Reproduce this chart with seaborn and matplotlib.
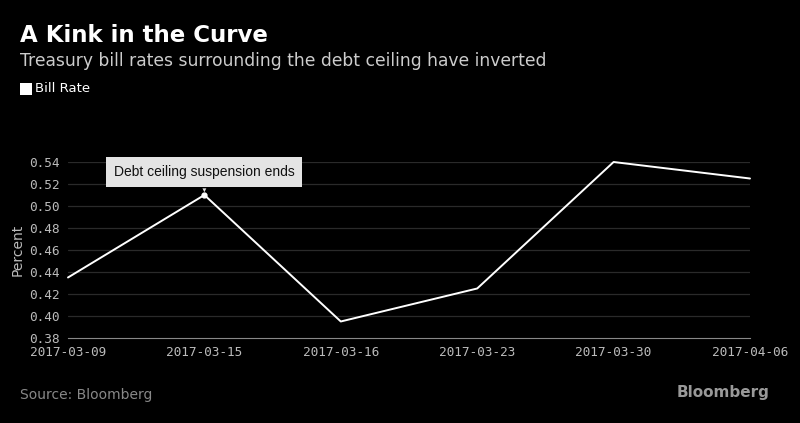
"""Bloomberg-style chart: Treasury bill rates around the debt ceiling."""

import matplotlib
matplotlib.use("Agg")
import matplotlib.pyplot as plt
import pandas as pd
import seaborn as sns

dates = ["2017-03-09", "2017-03-15", "2017-03-16", "2017-03-23", "2017-03-30", "2017-04-06"]
bill_rate = [0.435, 0.51, 0.395, 0.425, 0.54, 0.525]
y_ticks = [0.38, 0.40, 0.42, 0.44, 0.46, 0.48, 0.50, 0.52, 0.54]

sns.set_theme(style="dark")
plt.rcParams["font.family"] = ["DejaVu Sans"]

df = pd.DataFrame({"date": dates, "rate": bill_rate})
df["pos"] = range(len(df))

fig = plt.figure(figsize=(8, 4.23), dpi=100, facecolor="black")
ax = fig.add_axes([0.085, 0.201, 0.8525, 0.416])
ax.set_facecolor("black")

for t in y_ticks[1:]:
    ax.axhline(t, color="#2a2a2a", lw=0.9, zorder=0)

sns.lineplot(data=df, x="pos", y="rate", ax=ax, color="white", lw=1.4, clip_on=False)

ax.set_xlim(0, len(dates) - 1)
ax.set_ylim(0.38, 0.54)
ax.set_xticks(df["pos"])
ax.set_xticklabels(dates, color="#bbbbbb", fontsize=9.2, family="DejaVu Sans Mono")
ax.set_yticks(y_ticks)
ax.set_yticklabels([f"{v:.2f}" for v in y_ticks], color="#bbbbbb", fontsize=9.2,
                   family="DejaVu Sans Mono")
ax.tick_params(axis="x", length=5, color="#888888", width=0.8, pad=1)
ax.tick_params(axis="y", length=0, pad=6)
ax.set_xlabel("")
ax.set_ylabel("Percent", color="#bbbbbb", fontsize=10, labelpad=3)
ax.grid(False)
for side in ["top", "right", "left"]:
    ax.spines[side].set_visible(False)
ax.spines["bottom"].set_color("#888888")
ax.spines["bottom"].set_linewidth(0.8)

# annotation at the peak on 2017-03-15
ax.plot([1], [bill_rate[1]], "o", color="white", ms=3.5, zorder=5, clip_on=False)
ax.annotate("Debt ceiling suspension ends", xy=(1, bill_rate[1]), xytext=(0, 16.5),
            textcoords="offset points", ha="center", va="center", fontsize=10,
            family="Liberation Sans", color="#111111",
            bbox=dict(boxstyle="square,pad=0.55", fc="#e4e4e4", ec="none"),
            arrowprops=dict(arrowstyle="-|>", color="#e4e4e4", lw=0, mutation_scale=7,
                            shrinkA=0, shrinkB=2))

fig.text(0.025, 0.915, "A Kink in the Curve", color="white", fontsize=16.5,
         fontweight="bold", va="center")
fig.text(0.025, 0.855, "Treasury bill rates surrounding the debt ceiling have inverted",
         color="#cccccc", fontsize=12.3, va="center")
fig.patches.append(plt.Rectangle((0.025, 0.776), 0.015, 0.028, transform=fig.transFigure,
                                 fc="white", ec="none"))
fig.text(0.044, 0.790, "Bill Rate", color="white", fontsize=9.5, va="center")
fig.text(0.025, 0.067, "Source: Bloomberg", color="#888888", fontsize=10, va="center")
fig.text(0.962, 0.072, "Bloomberg", color="#999999", fontsize=11, fontweight="bold",
         va="center", ha="right")

fig.savefig("out.png", dpi=100, facecolor="black")
